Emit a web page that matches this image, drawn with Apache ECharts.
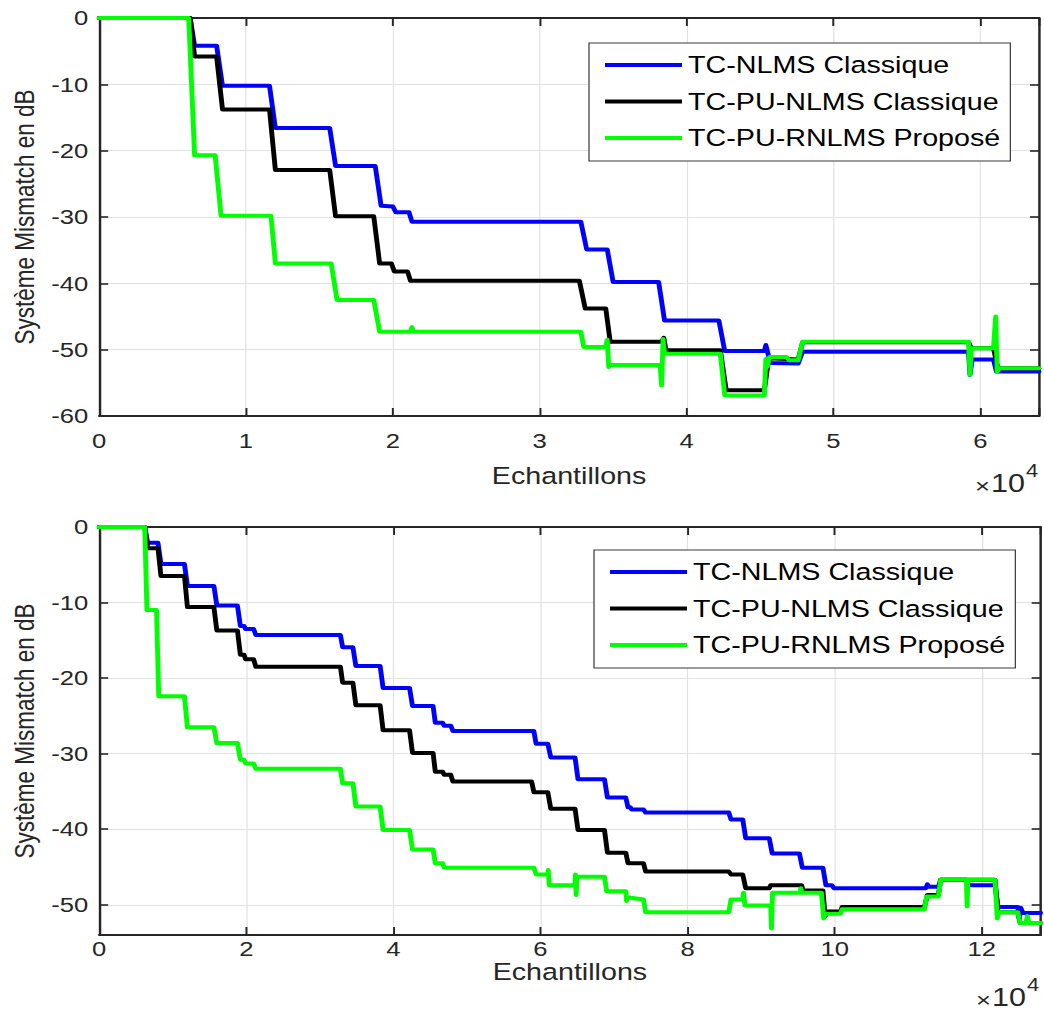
<!DOCTYPE html>
<html>
<head>
<meta charset="utf-8">
<script src="https://cdn.jsdelivr.net/npm/echarts@6/dist/echarts.min.js"></script>
<style>
  html, body { margin: 0; padding: 0; background: #ffffff; overflow: hidden; }
  /* The figure is laid out in a narrower box and stretched horizontally,
     giving the wide glyphs and marks of the exported MATLAB figure. */
  #chart { width: 855.74px; height: 1012px; transform: scaleX(1.22); transform-origin: 0 0; }
</style>
</head>
<body>
<div id="chart"></div>
<script>
// ---- series names and colours ----
const seriesNames = ['TC-NLMS Classique', 'TC-PU-NLMS Classique', 'TC-PU-RNLMS Proposé'];
const seriesColors = ['#0000ff', '#000000', '#00ff00'];

// ---- tick labels ----
const topXTickLabels = ['0', '1', '2', '3', '4', '5', '6'];          // x 10^4 samples
const bottomXTickLabels = ['0', '2', '4', '6', '8', '10', '12'];     // x 10^4 samples

// ---- upper plot: system mismatch (dB) versus samples ----
const topNlms = [
  [0, 0], [6200, 0], [6500, -4.2], [8000, -4.2], [8400, -10.2], [11600, -10.2], [12000, -16.6],
  [15700, -16.6], [16100, -22.3], [18800, -22.3], [19200, -28.3], [20000, -28.4], [20200, -29.3],
  [21100, -29.3], [21300, -30.7], [32800, -30.7], [33200, -34.9], [34600, -34.9], [35000, -39.8],
  [38100, -39.8], [38500, -45.6], [42200, -45.6], [42600, -50.2], [45300, -50.2], [45400, -49.3],
  [45500, -50.2], [45700, -52.0], [47600, -52.1], [47900, -50.3], [59200, -50.3], [59300, -53.8],
  [59450, -51.5], [60900, -51.5], [61100, -53.3], [64000, -53.3]
];
const topPuNlms = [
  [0, 0], [6200, 0], [6500, -5.8], [8000, -5.8], [8400, -13.8], [11600, -13.8], [12000, -22.9],
  [15700, -22.9], [16100, -29.9], [18700, -29.9], [19100, -37.0], [19900, -37.0], [20100, -38.2],
  [21000, -38.2], [21200, -39.6], [32700, -39.6], [33100, -43.8], [34500, -43.8], [34800, -48.8],
  [38300, -48.8], [38450, -48.2], [38600, -50.1], [42300, -50.1], [42700, -56.1], [45300, -56.1],
  [45600, -51.3], [47600, -51.5], [47900, -48.9], [59200, -48.9], [59400, -49.8], [60900, -49.8],
  [61200, -52.8], [64000, -52.8]
];
const topPuRnlms = [
  [0, 0], [6100, 0], [6500, -20.7], [7900, -20.7], [8300, -29.8], [11700, -29.8], [12000, -37.0],
  [15800, -37.0], [16200, -42.5], [18700, -42.5], [19100, -47.3], [21200, -47.3], [21300, -46.6],
  [21400, -47.3], [32800, -47.3], [33000, -49.6], [34500, -49.6], [34600, -48.5], [34700, -52.6],
  [34800, -52.3], [38200, -52.3], [38300, -55.4], [38400, -48.4], [38500, -50.6], [42300, -50.6],
  [42600, -56.9], [45300, -56.9], [45400, -51.4], [45500, -52.6], [45650, -51.1], [46800, -51.1],
  [47000, -51.6], [47600, -51.6], [47900, -48.8], [59200, -48.8], [59300, -53.8], [59400, -49.8],
  [60900, -49.8], [61050, -45.0], [61150, -53.3], [61300, -52.8], [64000, -52.8]
];

// ---- lower plot: system mismatch (dB) versus samples ----
const bottomNlms = [
  [0, 0], [6200, 0], [6600, -2.1], [8000, -2.1], [8400, -4.9], [11600, -4.9], [12000, -7.8],
  [15600, -7.8], [16000, -10.4], [18800, -10.4], [19200, -13.1], [19700, -13.1], [19900, -13.5],
  [21000, -13.5], [21300, -14.3], [32800, -14.3], [33100, -15.9], [34500, -15.9], [34900, -18.4],
  [38200, -18.4], [38600, -21.3], [42200, -21.3], [42600, -23.7], [45400, -23.7], [45700, -25.9],
  [46700, -25.9], [46900, -26.3], [47800, -26.3], [48100, -27.0], [59100, -27.0], [59400, -28.7],
  [61000, -28.7], [61400, -30.5], [64700, -30.5], [65100, -33.4], [68700, -33.4], [69100, -35.8],
  [71600, -35.8], [71900, -37.1], [72200, -37.1], [72400, -37.4], [74000, -37.4], [74300, -37.8],
  [85600, -37.8], [85900, -38.7], [87500, -38.7], [87900, -41.2], [91100, -41.2], [91500, -43.2],
  [95200, -43.2], [95600, -45.1], [98400, -45.1], [98800, -47.4], [99600, -47.4], [99900, -47.8],
  [112400, -47.8], [112600, -47.3], [112800, -47.6], [114100, -47.6], [114400, -46.7],
  [117900, -46.7], [118200, -47.4], [121800, -47.4], [122200, -50.3], [124900, -50.3],
  [125100, -51.8], [125300, -50.4], [125600, -51.1], [128000, -51.1]
];
const bottomPuNlms = [
  [0, 0], [6200, 0], [6600, -2.8], [8000, -2.8], [8400, -6.5], [11600, -6.5], [12000, -10.6],
  [15600, -10.6], [16000, -13.7], [18800, -13.7], [19200, -16.9], [19700, -16.9], [19900, -17.5],
  [21000, -17.5], [21300, -18.5], [32800, -18.5], [33100, -20.6], [34500, -20.6], [34900, -23.6],
  [38200, -23.6], [38600, -26.9], [42200, -26.9], [42600, -29.9], [45400, -29.9], [45700, -32.4],
  [46700, -32.4], [46900, -32.8], [47800, -32.8], [48100, -33.7], [58800, -33.7], [59100, -35.1],
  [61000, -35.1], [61400, -37.3], [64700, -37.3], [65100, -40.1], [68700, -40.1], [69100, -43.1],
  [71600, -43.1], [71900, -44.5], [74000, -44.5], [74300, -45.6], [85600, -45.6], [85900, -46.0],
  [87500, -46.0], [87900, -47.8], [91100, -47.8], [91300, -47.4], [95500, -47.4], [95700, -48.1],
  [98400, -48.1], [98700, -51.5], [99000, -50.9], [100800, -50.9], [101000, -50.3],
  [112200, -50.3], [112600, -48.7], [114100, -48.7], [114400, -46.7], [121800, -46.7],
  [122200, -51.0], [124900, -51.0], [125200, -52.4], [128000, -52.4]
];
const bottomPuRnlms = [
  [0, 0], [6200, 0], [6500, -11.0], [7800, -11.0], [8100, -22.4], [11600, -22.4], [12000, -26.5],
  [15600, -26.5], [16000, -28.6], [18800, -28.6], [19200, -30.8], [19700, -30.8], [19900, -31.3],
  [21000, -31.3], [21300, -32.0], [32800, -32.0], [33100, -33.9], [34500, -33.9], [34900, -37.0],
  [38200, -37.0], [38600, -40.1], [42200, -40.1], [42600, -42.7], [45400, -42.7], [45700, -44.5],
  [46700, -44.5], [46900, -45.1], [59100, -45.1], [59400, -46.0], [61000, -46.0], [61050, -45.4],
  [61200, -47.4], [64700, -47.4], [64750, -46.0], [64850, -48.7], [64950, -46.3], [68700, -46.3],
  [69000, -48.2], [71600, -48.2], [71700, -49.5], [71800, -49.0], [74000, -49.3], [74300, -51.0],
  [85600, -51.0], [85900, -49.3], [87500, -49.3], [87600, -48.4], [87800, -50.1], [91300, -50.1],
  [91400, -53.1], [91550, -48.4], [95300, -48.4], [95400, -47.8], [95500, -48.4], [98200, -48.4],
  [98500, -51.8], [98700, -51.2], [100800, -51.2], [101000, -50.6], [112200, -50.6],
  [112500, -48.9], [114100, -48.9], [114400, -46.7], [117900, -46.7], [118000, -50.2],
  [118100, -46.7], [121800, -46.7], [122100, -51.8], [122300, -51.0], [124900, -51.0],
  [125200, -52.4], [126000, -52.4], [126200, -51.5], [126400, -52.4], [128000, -52.4]
];

// ---- layout helpers ----
const SX = 1.22;                 // horizontal stretch applied by CSS
const hx = v => v / SX;          // convert a horizontal screen distance into chart units
const FONT = '"Liberation Sans", Arial, Helvetica, sans-serif';
const AXIS_COLOR = '#262626';
const GRID_COLOR = '#e2e2e2';

function mainXAxis(gridIndex, max, step, labels, nameGap, labelMargin) {
  return {
    gridIndex, type: 'value', position: 'bottom', min: 0, max, interval: step,
    axisLine: { show: true, onZero: false, lineStyle: { color: AXIS_COLOR, width: 2 } },
    axisTick: { show: true, inside: true, length: 8, lineStyle: { color: AXIS_COLOR, width: 1.6 } },
    axisLabel: {
      margin: labelMargin, fontSize: 21, color: AXIS_COLOR, fontFamily: FONT,
      formatter: v => (v % step === 0 ? labels[v / step] : '')
    },
    splitLine: { show: true, lineStyle: { color: GRID_COLOR, width: 1 } },
    name: 'Echantillons', nameLocation: 'middle', nameGap,
    nameTextStyle: { fontSize: 23.5, color: AXIS_COLOR, fontFamily: FONT }
  };
}
function mirrorXAxis(gridIndex, max, step) {
  return {
    gridIndex, type: 'value', position: 'top', min: 0, max, interval: step,
    axisLine: { show: true, onZero: false, lineStyle: { color: AXIS_COLOR, width: 2 } },
    axisTick: { show: true, inside: true, length: 8, lineStyle: { color: AXIS_COLOR, width: 1.6 } },
    axisLabel: { show: false }, splitLine: { show: false }
  };
}
function mainYAxis(gridIndex, min, nameGap) {
  const ax = {
    gridIndex, type: 'value', position: 'left', min, max: 0,
    axisLine: { show: true, onZero: false, lineStyle: { color: AXIS_COLOR, width: 2 } },
    axisTick: { show: true, inside: true, length: hx(9), lineStyle: { color: AXIS_COLOR, width: 1.6 } },
    axisLabel: {
      margin: hx(11), fontSize: 21, color: AXIS_COLOR, fontFamily: FONT,
      formatter: v => (v % 10 === 0 ? String(v) : '')
    },
    splitLine: { show: true, lineStyle: { color: GRID_COLOR, width: 1 } },
    name: 'Système Mismatch en dB', nameLocation: 'middle', nameGap,
    nameTextStyle: { fontSize: 22.5, color: AXIS_COLOR, fontFamily: FONT }
  };
  if (min % 10 === 0) ax.interval = 10; else ax.splitNumber = 5;
  return ax;
}
function mirrorYAxis(gridIndex, min) {
  const ax = {
    gridIndex, type: 'value', position: 'right', min, max: 0,
    axisLine: { show: true, onZero: false, lineStyle: { color: AXIS_COLOR, width: 2 } },
    axisTick: { show: true, inside: true, length: hx(9), lineStyle: { color: AXIS_COLOR, width: 1.6 } },
    axisLabel: { show: false }, splitLine: { show: false }
  };
  if (min % 10 === 0) ax.interval = 10; else ax.splitNumber = 5;
  return ax;
}
function curve(i, data, axisIndex) {
  return {
    name: seriesNames[i], type: 'line', data,
    xAxisIndex: axisIndex, yAxisIndex: axisIndex,
    symbol: 'none', showSymbol: false, animation: false, z: 2 + i,
    lineStyle: { color: seriesColors[i], width: 4, cap: 'round', join: 'round' },
    itemStyle: { color: seriesColors[i] }
  };
}
function legendBox(left, top) {
  return {
    orient: 'vertical', left: hx(left), top,
    padding: [10, hx(10), 11, hx(16)],
    itemWidth: hx(77), itemHeight: 4, itemGap: 12.5, icon: 'rect',
    backgroundColor: '#ffffff', borderColor: '#3a3a3a', borderWidth: 1,
    textStyle: { fontSize: 23.5, lineHeight: 24, color: '#000000', fontFamily: FONT },
    data: seriesNames
  };
}
// "×10^4" multiplier written under the right end of each x axis
function exponent(x, y) {
  const piece = (text, dx, dy, size) => ({
    text, left: hx(x + dx), top: y + dy, padding: 0, itemGap: 0,
    textStyle: { fontSize: size, fontWeight: 'normal', color: AXIS_COLOR, fontFamily: FONT, lineHeight: size }
  });
  return [piece('×', 0, -9, 21), piece('10', 16, -13, 25), piece('4', 51, -22, 18)];
}

const chart = echarts.init(document.getElementById('chart'), null, { renderer: 'svg' });
chart.setOption({
  backgroundColor: '#ffffff',
  animation: false,
  title: [...exponent(975, 484), ...exponent(976, 998)],
  grid: [
    { left: hx(97), top: 18, width: hx(942), height: 398, containLabel: false },
    { left: hx(92), top: 527, width: hx(949), height: 408, containLabel: false }
  ],
  xAxis: [
    mainXAxis(0, 64000, 10000, topXTickLabels, 48, 14),
    mirrorXAxis(0, 64000, 10000),
    mainXAxis(1, 128000, 20000, bottomXTickLabels, 23, 3),
    mirrorXAxis(1, 128000, 20000)
  ],
  yAxis: [
    mainYAxis(0, -60, 50),
    mirrorYAxis(0, -60),
    mainYAxis(1, -54, 46),
    mirrorYAxis(1, -54)
  ],
  legend: [legendBox(589, 43), legendBox(594, 550)],
  series: [
    curve(0, topNlms, 0), curve(1, topPuNlms, 0), curve(2, topPuRnlms, 0),
    curve(0, bottomNlms, 2), curve(1, bottomPuNlms, 2), curve(2, bottomPuRnlms, 2)
  ]
});
</script>
</body>
</html>
